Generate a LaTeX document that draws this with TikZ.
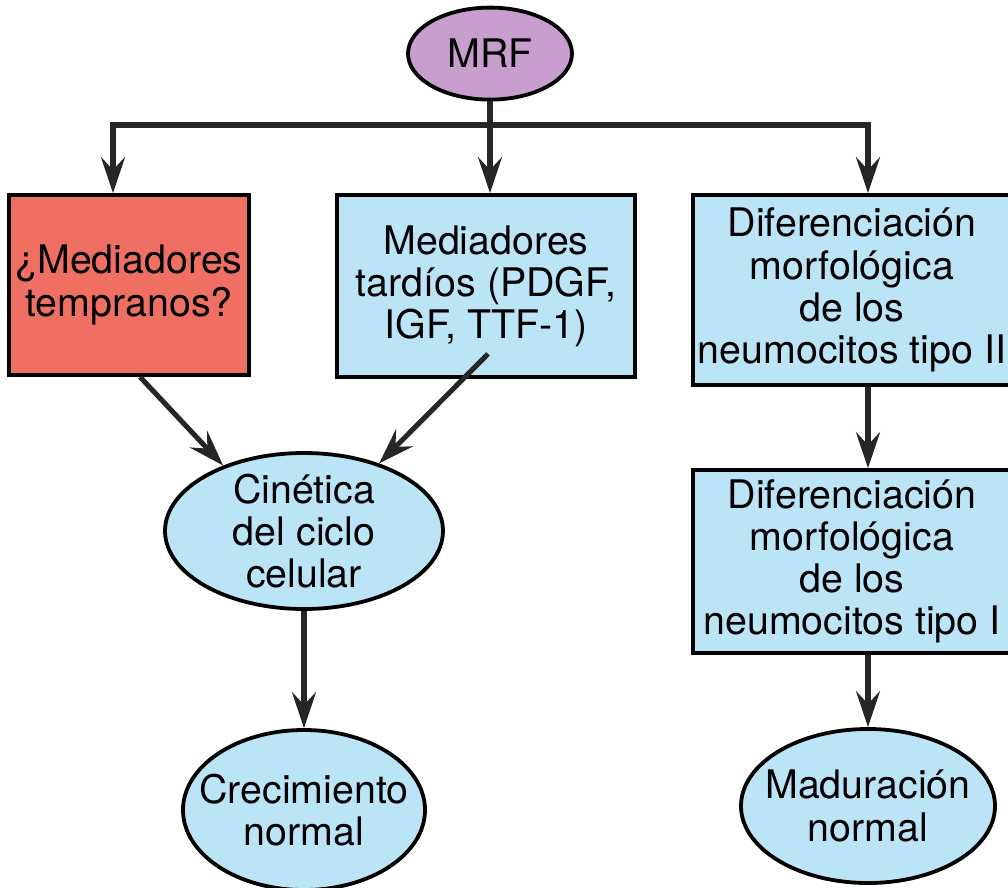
\documentclass[tikz,border=0pt]{standalone}
\usepackage{fontspec}
\setmainfont{TeX Gyre Heros}
\usetikzlibrary{shapes.geometric, arrows.meta, positioning, calc}
\definecolor{mrfpurple}{RGB}{200,158,206}
\definecolor{earlyred}{RGB}{239,112,99}
\definecolor{cellblue}{RGB}{187,228,247}

\begin{document}
\begin{tikzpicture}[
    font=\fontsize{28}{30}\selectfont,
    % Shapes
    mrf/.style={ellipse, draw=black, line width=2.7pt, fill=mrfpurple, minimum width=4.1cm, minimum height=2.3cm, inner sep=-5mm},
    box/.style={draw=black, line width=2.7pt, fill=cellblue, align=center, inner sep=0pt},
    oval/.style={ellipse, draw=black, line width=2.7pt, fill=cellblue, align=center, inner sep=-5mm},
    % Connectors
    arr/.style={line width=3.6pt, draw=black!85, -{Stealth[length=9mm, width=6mm, inset=3.2mm]}},
    link/.style={line width=3.6pt, draw=black!85, line cap=rect}
]
\useasboundingbox (0,0) rectangle (25.2,-22.2);

% ===============================
% Top: MRF and the three branches
% ===============================
\node[mrf] (mrf) at (12.25,-1.34) {MRF};

\node[box, fill=earlyred, minimum width=6cm, minimum height=4.5cm] (early) at (3.225,-7.125) {¿Mediadores\\tempranos?};
\node[box, minimum width=7.45cm, minimum height=4.55cm] (late) at (12.15,-7.15) {Mediadores\\tardíos (PDGF,\\IGF, TTF-1)};
\node[box, minimum width=7.95cm, minimum height=4.75cm] (difii) at (21.3,-7.25) {Diferenciación\\morfológica\\de los\\neumocitos tipo II};

% ===============================
% Lower part
% ===============================
\node[oval, minimum width=6.95cm, minimum height=3.9cm] (cin) at (7.6,-13.275) {Cinética\\del ciclo\\celular};
\node[box, minimum width=7.95cm, minimum height=4.575cm] (difi) at (21.3,-14.04) {Diferenciación\\morfológica\\de los\\neumocitos tipo I};

\node[oval, minimum width=6.05cm, minimum height=4cm] (crec) at (7.6,-20.25) {Crecimiento\\normal};
\node[oval, minimum width=6.35cm, minimum height=3.85cm] (madur) at (21.7,-20.15) {Maduración\\normal};

% Branching line
\coordinate (lft) at (2.825,-3.125);
\coordinate (rgt) at (21.7,-3.125);
\draw[link] (lft) -- (rgt);

% Arrows
\draw[arr] (mrf.south) -- (mrf.south |- late.north);
\draw[arr] (lft) -- (lft |- early.north);
\draw[arr] (rgt) -- (rgt |- difii.north);
\draw[arr] (rgt |- difii.south) -- (rgt |- difi.north);
\draw[arr] (rgt |- difi.south) -- (madur.north);
\draw[arr] ($(early.south)+(0.275,0)$) -- (cin.141);
\draw[arr] ($(late.south)+(0.05,0.625)$) -- (cin.42);
\draw[arr] (cin.south) -- (crec.north);

\end{tikzpicture}
\end{document}
